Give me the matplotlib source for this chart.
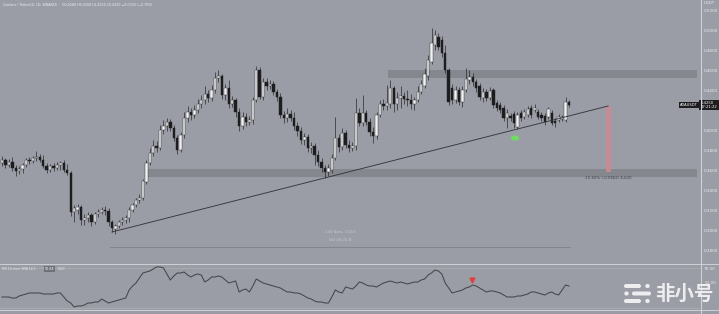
import matplotlib
matplotlib.use('Agg')
import matplotlib.pyplot as plt
import numpy as np
from matplotlib.patches import Rectangle, Ellipse, FancyBboxPatch

# ---------------- data ----------------
opens = [
    .367, .370, .365, .368, .362, .359, .361, .365, .370, .369,
    .372, .373, .370, .364, .360, .364, .362, .365, .367, .360,
    .357, .318, .320, .323, .310, .312, .315, .308, .316, .318,
    .320, .319, .308, .301, .304, .308, .310, .312, .320, .325,
    .330, .332, .348, .367, .377, .384, .382, .400, .404, .408,
    .402, .392, .380, .395, .412, .418, .415, .420, .426, .430,
    .436, .432, .440, .452, .454, .435, .442, .426, .430, .418,
    .404, .413, .408, .410, .430, .460, .433, .448, .444, .446,
    .438, .433, .415, .412, .416, .412, .404, .399, .390, .393,
    .382, .384, .375, .368, .362, .358, .360, .372, .392, .383,
    .397, .385, .382, .384, .417, .407, .417, .408, .398, .394,
    .415, .426, .424, .426, .442, .426, .432, .434, .431, .430,
    .426, .430, .438, .444, .454, .468, .485, .493, .490, .477,
    .460, .442, .430, .440, .428, .440, .450, .453, .448, .444,
    .432, .438, .432, .440, .427, .425, .422, .412, .414, .416,
    .403, .417, .413, .415, .422, .420, .418, .415, .414, .413,
    .417, .409, .410, .411, .410, .428]
closes = [
    .370, .365, .368, .362, .359, .361, .365, .370, .369, .372,
    .373, .370, .364, .360, .364, .362, .365, .367, .360, .357,
    .318, .322, .323, .310, .312, .315, .308, .316, .318, .320,
    .319, .308, .302, .304, .308, .310, .312, .320, .325, .330,
    .332, .349, .367, .377, .384, .382, .400, .404, .408, .402,
    .392, .380, .395, .412, .418, .415, .420, .426, .430, .436,
    .432, .440, .452, .454, .435, .442, .426, .430, .418, .404,
    .413, .408, .410, .430, .460, .433, .448, .444, .446, .438,
    .433, .415, .412, .416, .412, .404, .399, .390, .393, .382,
    .384, .375, .368, .362, .358, .362, .372, .392, .383, .397,
    .385, .382, .384, .417, .407, .417, .408, .398, .394, .415,
    .426, .424, .427, .442, .426, .432, .434, .431, .430, .426,
    .430, .438, .446, .456, .470, .487, .495, .483, .477, .460,
    .428, .430, .440, .428, .440, .451, .453, .448, .442, .433,
    .438, .432, .439, .425, .422, .420, .412, .417, .412, .407,
    .415, .412, .418, .421, .415, .422, .413, .412, .408, .421,
    .407, .407, .413, .413, .428, .425]
highs = [
    .374, .372, .371, .373, .365, .364, .367, .372, .373, .374,
    .379, .376, .375, .367, .366, .367, .368, .369, .370, .366,
    .359, .325, .326, .325, .316, .318, .317, .318, .321, .323,
    .324, .322, .310, .306, .310, .313, .315, .323, .327, .332,
    .336, .351, .370, .382, .390, .389, .405, .410, .412, .411,
    .405, .395, .398, .418, .424, .422, .425, .431, .435, .444,
    .440, .445, .458, .460, .456, .446, .450, .434, .432, .422,
    .418, .417, .414, .433, .464, .463, .452, .452, .450, .449,
    .441, .437, .419, .422, .420, .418, .408, .403, .397, .396,
    .388, .387, .380, .372, .365, .366, .376, .413, .396, .402,
    .400, .390, .388, .432, .422, .435, .420, .412, .403, .418,
    .430, .431, .445, .450, .444, .438, .444, .438, .440, .436,
    .433, .444, .450, .462, .475, .502, .500, .497, .494, .485,
    .462, .446, .444, .443, .444, .462, .460, .457, .451, .447,
    .442, .441, .443, .442, .430, .428, .425, .421, .417, .419,
    .418, .420, .421, .424, .425, .426, .421, .418, .417, .423,
    .420, .412, .416, .415, .433, .430]
lows = [
    .364, .362, .363, .359, .354, .356, .357, .363, .366, .367,
    .369, .368, .362, .357, .358, .359, .360, .360, .358, .355,
    .314, .308, .316, .305, .305, .308, .304, .306, .313, .316,
    .315, .304, .298, .296, .302, .305, .307, .308, .318, .323,
    .327, .330, .346, .365, .374, .378, .380, .396, .399, .399,
    .389, .376, .378, .392, .408, .410, .412, .417, .422, .426,
    .428, .429, .437, .448, .431, .430, .422, .423, .413, .399,
    .401, .404, .405, .406, .428, .431, .430, .440, .441, .435,
    .429, .412, .407, .408, .409, .400, .394, .386, .385, .378,
    .377, .365, .364, .358, .352, .354, .357, .370, .378, .380,
    .382, .378, .379, .380, .404, .404, .405, .394, .387, .391,
    .413, .420, .420, .422, .418, .420, .422, .426, .424, .421,
    .420, .428, .436, .442, .450, .466, .480, .480, .473, .457,
    .425, .426, .427, .425, .423, .438, .446, .444, .438, .430,
    .428, .429, .430, .422, .419, .417, .409, .402, .409, .402,
    .401, .409, .411, .413, .412, .418, .411, .409, .405, .411,
    .405, .403, .408, .409, .408, .423]
rsi = [
    41, 41, 41, 40, 40, 42, 43, 44, 45, 45,
    45, 45, 44, 44, 44, 44, 45, 45, 41, 37,
    35, 31, 32, 32, 33, 35, 35, 36, 36, 39,
    37, 35, 36, 37, 38, 39, 40, 48, 52, 55,
    60, 65, 66, 67, 69, 71, 71, 70, 64, 58,
    62, 65, 65, 66, 63, 61, 63, 64, 63, 56,
    58, 61, 61, 62, 61, 58, 55, 56, 57, 46,
    48, 49, 46, 52, 59, 57, 55, 54, 53, 52,
    51, 50, 48, 46, 46, 45, 45, 44, 42, 40,
    39, 37, 36, 36, 35, 35, 41, 48, 46, 45,
    51, 50, 49, 52, 56, 55, 53, 52, 52, 51,
    53, 55, 56, 57, 56, 55, 56, 55, 54, 55,
    56, 56, 58, 59, 63, 65, 68, 67, 64, 55,
    50, 45, 46, 47, 48, 50, 51, 53, 52, 50,
    48, 46, 47, 47, 46, 45, 43, 41, 41, 41,
    42, 42, 43, 44, 46, 46, 45, 44, 43, 45,
    46, 44, 43, 48, 53, 52]

price_ticks = [0.52, 0.50, 0.48, 0.46, 0.44, 0.40, 0.38, 0.36, 0.34, 0.32, 0.30, 0.28]
rsi_ticks = [70]

zone_upper = (0.452, 0.460)
zone_upper_start = 112.3
zone_lower = (0.353, 0.361)
zone_lower_start = 41.9
trend_start = (32.0, 0.298)
trend_end = (176.4, 0.424)
measure_range = (31.4, 165.3)
measure_level = 0.283
drop_bar_x = 175.7
drop_bar_range = (0.358, 0.424)
green_mark = (149.3, 0.392)
red_mark = (136.8, 58)

# ---------------- style ----------------
BG = '#9a9da5'
DARK = '#1d1d20'
WICK = '#2a2a2e'
LIGHT_TXT = '#ececef'

W, H = 719, 314
fig = plt.figure(figsize=(W / 100, H / 100), dpi=100, facecolor=BG)

ax = fig.add_axes([0, 1 - 264 / H, 700 / W, 264 / H], facecolor=BG)
ax_r = fig.add_axes([0, 4 / H, 700 / W, 46 / H], facecolor=BG)

n = len(closes)
x = np.arange(n)
o = np.array(opens); c = np.array(closes); hi = np.array(highs); lo = np.array(lows)
up = c >= o
bb = np.minimum(o, c)
bh = np.maximum(np.abs(c - o), 0.0008)

# zones
xr = 202.4
ax.add_patch(Rectangle((zone_upper_start, zone_upper[0]), xr - zone_upper_start,
                       zone_upper[1] - zone_upper[0], facecolor='#84878e', edgecolor='none', zorder=1))
ax.add_patch(Rectangle((zone_lower_start, zone_lower[0]), xr - zone_lower_start,
                       zone_lower[1] - zone_lower[0], facecolor='#84878e', edgecolor='none', zorder=1))

ax.vlines(x, lo, hi, color=WICK, lw=0.5, zorder=3)
ax.bar(x[up], bh[up], bottom=bb[up], width=0.7, color='#f2f2f2', edgecolor=WICK, linewidth=0.3, zorder=4)
ax.bar(x[~up], bh[~up], bottom=bb[~up], width=0.7, color=DARK, edgecolor=DARK, linewidth=0.3, zorder=4)

# trend line
ax.plot([trend_start[0], trend_end[0]], [trend_start[1], trend_end[1]], color='#36373c', lw=0.65, zorder=5)

# measurement line + text
ax.plot(list(measure_range), [measure_level, measure_level], color='#7e8189', lw=0.6, zorder=2)
mid = (measure_range[0] + measure_range[1]) / 2
ax.text(mid, measure_level + 0.015, '133 bars, 132d', fontsize=2.8, color='#c9cbd0', ha='center', va='center')
ax.text(mid, measure_level + 0.0075, 'Vol 48.41 B', fontsize=2.8, color='#c9cbd0', ha='center', va='center')

# drop bar
ax.add_patch(Rectangle((drop_bar_x, drop_bar_range[0]), 1.4, drop_bar_range[1] - drop_bar_range[0],
                       facecolor='#cf8a90', edgecolor='none', alpha=0.85, zorder=2))
ax.text(drop_bar_x + 0.7, drop_bar_range[0] - 0.0055, '-15.60% (-0.0662) 6,620',
        fontsize=2.8, color='#3c3d42', ha='center', va='center')

# green marker
ax.add_patch(Ellipse(green_mark, 2.4, 0.005, facecolor='#6fdc63', edgecolor='none', zorder=6))

ax.set_xlim(-0.58, 203.14)
ax.set_ylim(0.266, 0.530)

# price axis labels (right)
ax.yaxis.tick_right()
ax.set_yticks(price_ticks)
ax.set_yticklabels([f'{t:.4f}' for t in price_ticks])
ax.tick_params(axis='y', length=0, pad=3, labelsize=3, labelcolor=LIGHT_TXT)
ax.tick_params(axis='x', length=0, labelbottom=False)
for s in ax.spines.values():
    s.set_visible(False)

# last price label
ax.annotate(f'{closes[-1]:.4f}\n17:21:22', xy=(1.001, closes[-1]), xycoords=('axes fraction', 'data'),
            fontsize=2.7, color='white', ha='left', va='center', linespacing=1.1,
            bbox=dict(boxstyle='square,pad=0.35', facecolor=DARK, edgecolor='none'), zorder=10,
            annotation_clip=False)
ax.annotate('ADAUSDT', xy=(0.997, closes[-1]), xycoords=('axes fraction', 'data'),
            fontsize=2.6, color='white', ha='right', va='center',
            bbox=dict(boxstyle='square,pad=0.3', facecolor=DARK, edgecolor='none'), zorder=10)

# RSI panel
ax_r.plot(x, rsi, color='#45464c', lw=0.75, zorder=3)
ax_r.axhline(70, color='#adb0b7', lw=0.5, zorder=1)
ax_r.axhline(30, color='#adb0b7', lw=0.5, zorder=1)
ax_r.plot([red_mark[0]], [red_mark[1]], marker='v', markersize=3.5, color='#e0403a', zorder=5)
ax_r.set_xlim(-0.58, 203.14)
ax_r.set_ylim(28, 74)
ax_r.yaxis.tick_right()
ax_r.set_yticks(rsi_ticks)
ax_r.set_yticklabels([f'{t:.2f}' for t in rsi_ticks])
ax_r.tick_params(axis='y', length=0, pad=3, labelsize=3, labelcolor=LIGHT_TXT)
ax_r.tick_params(axis='x', length=0, labelbottom=False)
for s in ax_r.spines.values():
    s.set_visible(False)
ax_r.annotate(f'{rsi[-1]:.2f}', xy=(1.0, rsi[-1] + 3), xycoords=('axes fraction', 'data'),
              xytext=(3, 0), textcoords='offset points', fontsize=3, color=LIGHT_TXT,
              ha='left', va='center', annotation_clip=False)

# overlay (separators, header texts, watermark)
ov = fig.add_axes([0, 0, 1, 1], facecolor='none', zorder=20)
ov.set_xlim(0, W); ov.set_ylim(H, 0); ov.axis('off')
ov.plot([700.5, 700.5], [0, H], color='#d0d2d6', lw=0.8)
ov.plot([0, W], [264, 264], color='#cfd1d5', lw=0.7)
ov.plot([0, W], [310, 310], color='#cfd1d5', lw=0.7)

ov.text(3, 5, 'Cardano / TetherUS, 1D, BINANCE', fontsize=2.3, color=LIGHT_TXT, va='center')
ov.text(62, 5, 'O0.4280 H0.4300 L0.4230 C0.4250 −0.0030 (−0.70%)', fontsize=2.3, color='#eef0f2', va='center')
ov.text(704, 3, 'USDT', fontsize=3, color=LIGHT_TXT, va='center')
ov.text(2, 269, 'RSI 14 close SMA 14 2', fontsize=2.2, color=LIGHT_TXT, va='center')
ov.text(45, 269, '50.84', fontsize=2.4, color='white', va='center',
        bbox=dict(boxstyle='square,pad=0.2', facecolor='#6e7178', edgecolor='none'))
ov.text(58, 269, '0.00', fontsize=2.4, color=LIGHT_TXT, va='center')

# watermark logo
wm = '#f5f5f7'
for (x0, x1, yc) in [(624, 641, 286), (632, 651, 293.5), (624, 641, 301)]:
    ov.add_patch(FancyBboxPatch((x0, yc - 2), x1 - x0, 4, boxstyle='round,pad=0,rounding_size=2',
                                facecolor=wm, edgecolor='none', alpha=0.92))
for (xc, yc) in [(647.5, 286), (626.5, 293.5), (647.5, 301)]:
    ov.add_patch(Ellipse((xc, yc), 4.4, 4.2, facecolor=wm, edgecolor='none', alpha=0.92))
ov.text(684, 294, '非小号', fontsize=14, fontweight='bold', color=wm, alpha=0.92,
        ha='center', va='center', family=['Noto Sans CJK SC', 'DejaVu Sans'])

fig.savefig('out.png', dpi=100, facecolor=BG)
